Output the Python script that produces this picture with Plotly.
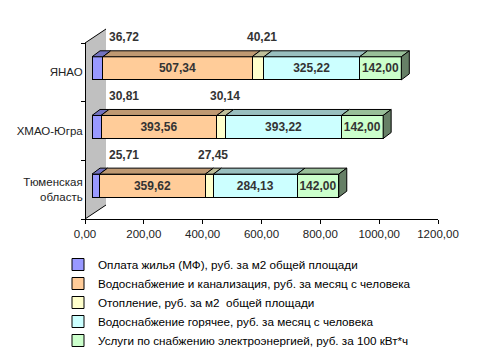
import plotly.graph_objects as go

categories = ["ЯНАО", "ХМАО-Югра", "Тюменская<br>область"]
series_names = [
    "Оплата жилья (МФ), руб. за м2 общей площади",
    "Водоснабжение и канализация, руб. за месяц с человека",
    "Отопление, руб. за м2  общей площади",
    "Водоснабжение горячее, руб. за месяц с человека",
    "Услуги по снабжению электроэнергией, руб. за 100 кВт*ч",
]
housing = [36.72, 30.81, 25.71]
water_sewer = [507.34, 393.56, 359.62]
heating = [40.21, 30.14, 27.45]
hot_water = [325.22, 393.22, 284.13]
electricity = [142.00, 142.00, 142.00]
tick_values = [0, 200, 400, 600, 800, 1000, 1200]

colors = ["#9999FF", "#FFCC99", "#FFFFCC", "#CCFFFF", "#CCFFCC"]
series = [housing, water_sewer, heating, hot_water, electricity]
inside_label = [False, True, False, True, True]

W, H = 487, 357
L, R, T, B = 85, 42, 29, 138
pw, ph = W - L - R, H - T - B

def px_x(p):
    return (p - L) / pw

def px_y(p):
    return (H - B - p) / ph

X_MAX = 1200
bar_x0, bar_x1 = 92, 445
bar_y0, bar_y1 = 39, 215
bargap = 0.607
bar_w = 1 - bargap
units_per_px_x = X_MAX / (bar_x1 - bar_x0)
cat_px = (bar_y1 - bar_y0) / len(categories)
dx = 8 * units_per_px_x
dy = 6 / cat_px

def shade(hexc, f):
    r, g, b = int(hexc[1:3], 16), int(hexc[3:5], 16), int(hexc[5:7], 16)
    return "#%02X%02X%02X" % (int(r * f), int(g * f), int(b * f))

label_font = dict(family="Liberation Sans, Arial", size=12, color="#333333", weight="bold")

fig = go.Figure()
ypos = list(range(len(categories)))
for name, vals, col, inside in zip(series_names, series, colors, inside_label):
    fig.add_trace(go.Bar(
        name=name, x=vals, y=ypos, orientation="h",
        marker=dict(color=col, line=dict(color="black", width=1)),
        text=[f"{v:.2f}".replace(".", ",") for v in vals] if inside else None,
        textposition="inside" if inside else "none",
        insidetextanchor="middle", constraintext="none",
        textfont=label_font, hoverinfo="skip",
    ))

# dummy trace for the visible front axes
fig.add_trace(go.Scatter(x=[None], y=[None], xaxis="x2", yaxis="y2",
                         showlegend=False, hoverinfo="skip"))

shapes = []
# side wall
wall = (f"M {px_x(85)},{px_y(219)} L {px_x(85)},{px_y(43)} L {px_x(106)},{px_y(29)} "
        f"L {px_x(106)},{px_y(205)} Z")
shapes.append(dict(type="path", path=wall, xref="paper", yref="paper",
                   fillcolor="#C0C0C0", line=dict(width=0), layer="below"))
shapes.append(dict(type="line", xref="paper", yref="paper", x0=px_x(85), y0=px_y(43),
                   x1=px_x(106), y1=px_y(29), line=dict(color="black", width=1)))
shapes.append(dict(type="line", xref="paper", yref="paper", x0=px_x(85), y0=px_y(219),
                   x1=px_x(106), y1=px_y(205), line=dict(color="black", width=1)))

# 3D top faces and end faces of bars
for i in range(len(categories)):
    start = 0.0
    top = i - bar_w / 2
    bot = i + bar_w / 2
    for k, (vals, col) in enumerate(zip(series, colors)):
        a, b = start, start + vals[i]
        p = f"M {a},{top} L {b},{top} L {b+dx},{top-dy} L {a+dx},{top-dy} Z"
        shapes.append(dict(type="path", path=p, xref="x", yref="y",
                           fillcolor=shade(col, 0.75), line=dict(color="black", width=1)))
        if k == len(series) - 1:
            p2 = f"M {b},{top} L {b+dx},{top-dy} L {b+dx},{bot-dy} L {b},{bot} Z"
            shapes.append(dict(type="path", path=p2, xref="x", yref="y",
                               fillcolor=shade(col, 0.5), line=dict(color="black", width=1)))
        start = b

annotations = []
for i in range(len(categories)):
    annotations.append(dict(x=0, y=i, xref="x", yref="y", xanchor="left", yanchor="middle",
                            text=f"{housing[i]:.2f}".replace(".", ","), showarrow=False,
                            xshift=15, yshift=31, font=label_font))
    c = housing[i] + water_sewer[i] + heating[i] / 2
    annotations.append(dict(x=c, y=i, xref="x", yref="y", xanchor="center", yanchor="middle",
                            text=f"{heating[i]:.2f}".replace(".", ","), showarrow=False,
                            xshift=4, yshift=31, font=label_font))

fig.update_layout(
    width=W, height=H,
    margin=dict(l=L, r=R, t=T, b=B, autoexpand=False),
    barmode="stack", bargap=bargap,
    plot_bgcolor="rgba(0,0,0,0)", paper_bgcolor="white",
    separators=",.",
    font=dict(family="Liberation Sans, Arial", size=11, color="black"),
    xaxis=dict(domain=[px_x(bar_x0), px_x(bar_x1)], range=[0, X_MAX], visible=False,
               fixedrange=True),
    yaxis=dict(domain=[px_y(bar_y1), px_y(bar_y0)], range=[len(categories) - 0.5, -0.5],
               visible=False),
    xaxis2=dict(domain=[px_x(85), px_x(438)], range=[0, X_MAX], anchor="free", position=0,
                tickvals=tick_values, tickformat=".2f", showgrid=False, zeroline=False,
                showline=True, linecolor="black", linewidth=1, ticks="outside", ticklen=4,
                tickcolor="black", tickfont=dict(size=11.5, color="#222222")),
    yaxis2=dict(domain=[px_y(219), px_y(43)], type="category", categoryarray=categories,
                range=[len(categories) - 0.5, -0.5], anchor="free", position=0,
                tickvals=categories, ticktext=categories, tickson="boundaries",
                showgrid=False, zeroline=False, showline=True, linecolor="black", linewidth=1,
                ticks="outside", ticklen=4, tickcolor="black",
                tickfont=dict(size=11.5, color="#222222")),
    shapes=shapes, annotations=annotations,
    showlegend=True,
    legend=dict(orientation="v", x=px_x(58), xanchor="left", y=px_y(250), yanchor="top",
                traceorder="normal", itemwidth=30, font=dict(size=11.7),
                bgcolor="rgba(0,0,0,0)"),
)

fig.write_html("out.html", config={"displayModeBar": False},
               post_script="document.body.style.margin='0px';")
